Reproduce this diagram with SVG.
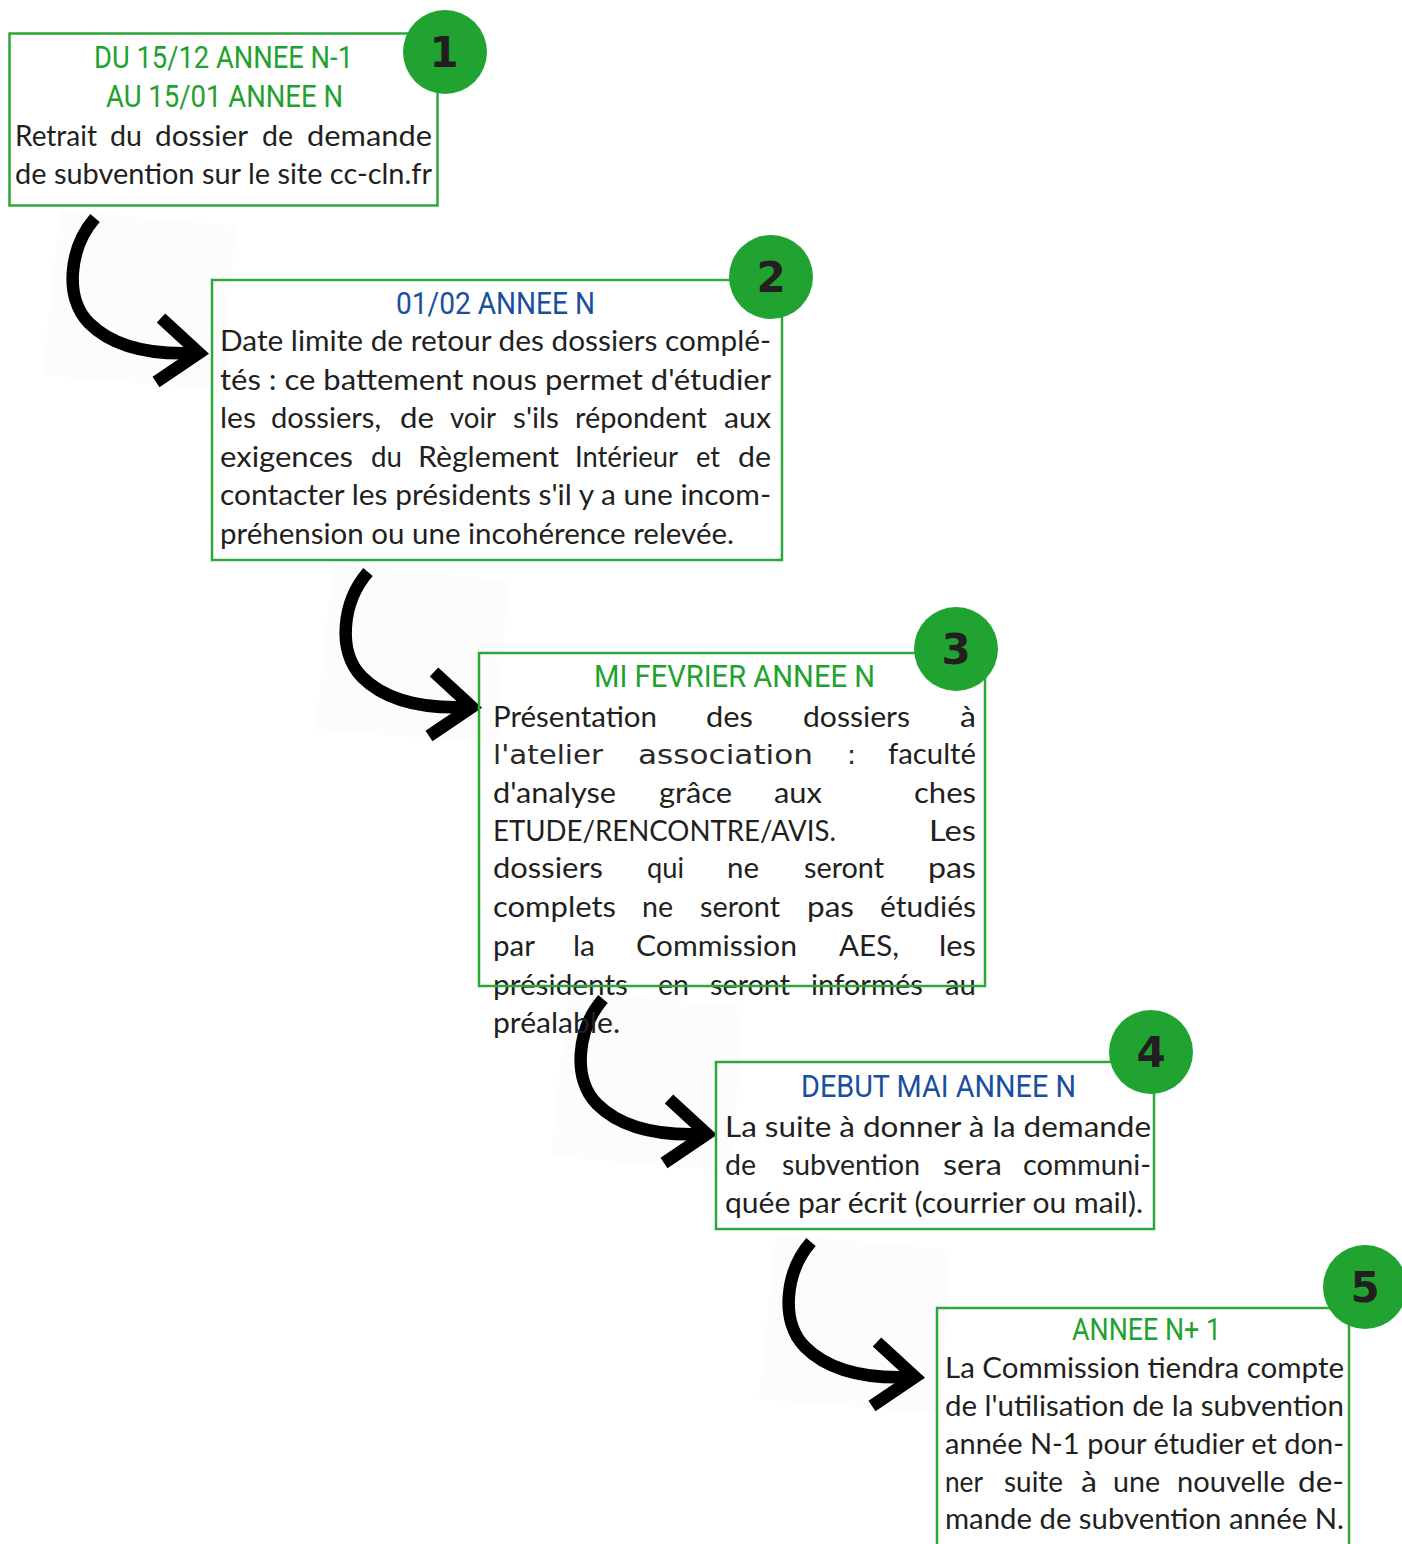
<svg xmlns="http://www.w3.org/2000/svg" xmlns:xlink="http://www.w3.org/1999/xlink" width="1402" height="1544" viewBox="0 0 1402 1544">
<style>
.box{fill:none;stroke:#2ca83b;stroke-width:2.5}
.badge{fill:#21a331}
.num{font-family:"DejaVu Sans",sans-serif;font-weight:bold;font-size:42px;fill:#231f20;text-anchor:middle}
.tg{font-family:Roboto,"Liberation Sans",sans-serif;font-size:31px;fill:#1fa22e}
.tb{font-family:Roboto,"Liberation Sans",sans-serif;font-size:31px;fill:#1a4f9f}
.b{font-family:Lato,"Liberation Sans",sans-serif;font-size:29px;fill:#231f20}
.alt{font-family:"DejaVu Sans",sans-serif;font-size:27px;fill:#2b2829}
.arrow{fill:none;stroke:#000;stroke-width:12.5}
.abg{fill:#fcfcfc}
</style>
<defs>
<g id="arrowShape">
<polygon class="abg" points="-139,-143 36,-127 25,37 -156,22"/>
<path class="arrow" d="M-104,-135 C-130,-105 -135,-55 -110,-30 C-85,-5 -45,2 -3,0"/>
<path class="arrow" d="M-38,-35 L0,0 L-43,29" stroke-linejoin="miter"/>
</g>
</defs>
<rect width="1402" height="1544" fill="#fff"/>
<g id="connectors">
<use xlink:href="#arrowShape" transform="translate(199,353)"/>
<use xlink:href="#arrowShape" transform="translate(472,707)"/>
<use xlink:href="#arrowShape" transform="translate(707,1134)"/>
<use xlink:href="#arrowShape" transform="translate(915,1377)"/>
</g>
<g id="node1">
<text class="tg" x="94" y="68" textLength="259" lengthAdjust="spacingAndGlyphs">DU 15/12 ANNEE N-1</text>
<text class="tg" x="106" y="107" textLength="237" lengthAdjust="spacingAndGlyphs">AU 15/01 ANNEE N</text>
<text class="b" x="15" y="146" textLength="82" lengthAdjust="spacingAndGlyphs">Retrait</text>
<text class="b" x="110" y="146" textLength="32" lengthAdjust="spacingAndGlyphs">du</text>
<text class="b" x="155" y="146" textLength="93" lengthAdjust="spacingAndGlyphs">dossier</text>
<text class="b" x="262" y="146" textLength="31" lengthAdjust="spacingAndGlyphs">de</text>
<text class="b" x="307" y="146" textLength="125" lengthAdjust="spacingAndGlyphs">demande</text>
<text class="b" x="15" y="184" textLength="417" lengthAdjust="spacingAndGlyphs">de subvention sur le site cc-cln.fr</text>
<rect class="box" x="9.5" y="33.5" width="428" height="172"/>
<circle class="badge" cx="445" cy="52" r="42"/>
<text class="num" x="444" y="67">1</text>
</g>
<g id="node2">
<text class="tb" x="396" y="314" textLength="199" lengthAdjust="spacingAndGlyphs">01/02 ANNEE N</text>
<text class="b" x="220" y="351" textLength="551" lengthAdjust="spacingAndGlyphs">Date limite de retour des dossiers complé-</text>
<text class="b" x="220" y="390" textLength="551" lengthAdjust="spacingAndGlyphs">tés : ce battement nous permet d'étudier</text>
<text class="b" x="220" y="428" textLength="36" lengthAdjust="spacingAndGlyphs">les</text>
<text class="b" x="271" y="428" textLength="110" lengthAdjust="spacingAndGlyphs">dossiers,</text>
<text class="b" x="400" y="428" textLength="34" lengthAdjust="spacingAndGlyphs">de</text>
<text class="b" x="450" y="428" textLength="46" lengthAdjust="spacingAndGlyphs">voir</text>
<text class="b" x="513" y="428" textLength="46" lengthAdjust="spacingAndGlyphs">s'ils</text>
<text class="b" x="575" y="428" textLength="132" lengthAdjust="spacingAndGlyphs">répondent</text>
<text class="b" x="724" y="428" textLength="47" lengthAdjust="spacingAndGlyphs">aux</text>
<text class="b" x="220" y="467" textLength="133" lengthAdjust="spacingAndGlyphs">exigences</text>
<text class="b" x="371" y="467" textLength="31" lengthAdjust="spacingAndGlyphs">du</text>
<text class="b" x="418" y="467" textLength="141" lengthAdjust="spacingAndGlyphs">Règlement</text>
<text class="b" x="575" y="467" textLength="103" lengthAdjust="spacingAndGlyphs">Intérieur</text>
<text class="b" x="696" y="467" textLength="24" lengthAdjust="spacingAndGlyphs">et</text>
<text class="b" x="738" y="467" textLength="33" lengthAdjust="spacingAndGlyphs">de</text>
<text class="b" x="220" y="505" textLength="551" lengthAdjust="spacingAndGlyphs">contacter les présidents s'il y a une incom-</text>
<text class="b" x="220" y="544" textLength="514" lengthAdjust="spacingAndGlyphs">préhension ou une incohérence relevée.</text>
<rect class="box" x="212" y="280" width="570" height="280"/>
<circle class="badge" cx="771" cy="277" r="42"/>
<text class="num" x="771" y="292">2</text>
</g>
<g id="node3">
<text class="tg" x="594" y="687" textLength="281" lengthAdjust="spacingAndGlyphs">MI FEVRIER ANNEE N</text>
<text class="b" x="493" y="727" textLength="164" lengthAdjust="spacingAndGlyphs">Présentation</text>
<text class="b" x="706" y="727" textLength="47" lengthAdjust="spacingAndGlyphs">des</text>
<text class="b" x="803" y="727" textLength="107" lengthAdjust="spacingAndGlyphs">dossiers</text>
<text class="b" x="960" y="727" textLength="16" lengthAdjust="spacingAndGlyphs">à</text>
<text class="alt" x="493" y="764" textLength="110" lengthAdjust="spacingAndGlyphs">l'atelier</text>
<text class="alt" x="638" y="764" textLength="175" lengthAdjust="spacingAndGlyphs">association</text>
<text class="alt" x="847" y="764">:</text>
<text class="b" x="888" y="764" textLength="88" lengthAdjust="spacingAndGlyphs">faculté</text>
<text class="b" x="493" y="803" textLength="123" lengthAdjust="spacingAndGlyphs">d'analyse</text>
<text class="b" x="659" y="803" textLength="73" lengthAdjust="spacingAndGlyphs">grâce</text>
<text class="b" x="774" y="803" textLength="48" lengthAdjust="spacingAndGlyphs">aux</text>
<text class="b" x="914" y="803" textLength="62" lengthAdjust="spacingAndGlyphs">ches</text>
<text class="b" x="493" y="841" textLength="343" lengthAdjust="spacingAndGlyphs">ETUDE/RENCONTRE/AVIS.</text>
<text class="b" x="929" y="841" textLength="47" lengthAdjust="spacingAndGlyphs">Les</text>
<text class="b" x="493" y="878" textLength="110" lengthAdjust="spacingAndGlyphs">dossiers</text>
<text class="b" x="647" y="878" textLength="37" lengthAdjust="spacingAndGlyphs">qui</text>
<text class="b" x="727" y="878" textLength="32" lengthAdjust="spacingAndGlyphs">ne</text>
<text class="b" x="804" y="878" textLength="80" lengthAdjust="spacingAndGlyphs">seront</text>
<text class="b" x="928" y="878" textLength="48" lengthAdjust="spacingAndGlyphs">pas</text>
<text class="b" x="493" y="917" textLength="123" lengthAdjust="spacingAndGlyphs">complets</text>
<text class="b" x="642" y="917" textLength="31" lengthAdjust="spacingAndGlyphs">ne</text>
<text class="b" x="700" y="917" textLength="80" lengthAdjust="spacingAndGlyphs">seront</text>
<text class="b" x="807" y="917" textLength="47" lengthAdjust="spacingAndGlyphs">pas</text>
<text class="b" x="880" y="917" textLength="96" lengthAdjust="spacingAndGlyphs">étudiés</text>
<text class="b" x="493" y="956" textLength="42" lengthAdjust="spacingAndGlyphs">par</text>
<text class="b" x="573" y="956" textLength="22" lengthAdjust="spacingAndGlyphs">la</text>
<text class="b" x="636" y="956" textLength="161" lengthAdjust="spacingAndGlyphs">Commission</text>
<text class="b" x="839" y="956" textLength="60" lengthAdjust="spacingAndGlyphs">AES,</text>
<text class="b" x="939" y="956" textLength="37" lengthAdjust="spacingAndGlyphs">les</text>
<text class="b" x="493" y="995" textLength="135" lengthAdjust="spacingAndGlyphs">présidents</text>
<text class="b" x="658" y="995" textLength="31" lengthAdjust="spacingAndGlyphs">en</text>
<text class="b" x="710" y="995" textLength="80" lengthAdjust="spacingAndGlyphs">seront</text>
<text class="b" x="811" y="995" textLength="112" lengthAdjust="spacingAndGlyphs">informés</text>
<text class="b" x="945" y="995" textLength="31" lengthAdjust="spacingAndGlyphs">au</text>
<text class="b" x="493" y="1033" textLength="127" lengthAdjust="spacingAndGlyphs">préalable.</text>
<rect class="box" x="479" y="653" width="506" height="333"/>
<circle class="badge" cx="956" cy="649" r="42"/>
<text class="num" x="956" y="664">3</text>
</g>
<g id="node4">
<text class="tb" x="801" y="1097" textLength="275" lengthAdjust="spacingAndGlyphs">DEBUT MAI ANNEE N</text>
<text class="b" x="725" y="1137" textLength="426" lengthAdjust="spacingAndGlyphs">La suite à donner à la demande</text>
<text class="b" x="725" y="1175" textLength="31" lengthAdjust="spacingAndGlyphs">de</text>
<text class="b" x="782" y="1175" textLength="138" lengthAdjust="spacingAndGlyphs">subvention</text>
<text class="b" x="943" y="1175" textLength="59" lengthAdjust="spacingAndGlyphs">sera</text>
<text class="b" x="1023" y="1175" textLength="128" lengthAdjust="spacingAndGlyphs">communi-</text>
<text class="b" x="725" y="1213" textLength="418" lengthAdjust="spacingAndGlyphs">quée par écrit (courrier ou mail).</text>
<rect class="box" x="716" y="1062" width="438" height="167"/>
<circle class="badge" cx="1151" cy="1052" r="42"/>
<text class="num" x="1151" y="1067">4</text>
</g>
<g id="node5">
<text class="tg" x="1072" y="1340" textLength="149" lengthAdjust="spacingAndGlyphs">ANNEE N+ 1</text>
<text class="b" x="945" y="1378" textLength="399" lengthAdjust="spacingAndGlyphs">La Commission tiendra compte</text>
<text class="b" x="945" y="1416" textLength="399" lengthAdjust="spacingAndGlyphs">de l'utilisation de la subvention</text>
<text class="b" x="945" y="1454" textLength="399" lengthAdjust="spacingAndGlyphs">année N-1 pour étudier et don-</text>
<text class="b" x="945" y="1492" textLength="38" lengthAdjust="spacingAndGlyphs">ner</text>
<text class="b" x="1004" y="1492" textLength="59" lengthAdjust="spacingAndGlyphs">suite</text>
<text class="b" x="1081" y="1492" textLength="16" lengthAdjust="spacingAndGlyphs">à</text>
<text class="b" x="1113" y="1492" textLength="47" lengthAdjust="spacingAndGlyphs">une</text>
<text class="b" x="1177" y="1492" textLength="108" lengthAdjust="spacingAndGlyphs">nouvelle</text>
<text class="b" x="1298" y="1492" textLength="46" lengthAdjust="spacingAndGlyphs">de-</text>
<text class="b" x="945" y="1529" textLength="399" lengthAdjust="spacingAndGlyphs">mande de subvention année N.</text>
<rect class="box" x="937" y="1308" width="412" height="260"/>
<circle class="badge" cx="1365" cy="1287" r="42"/>
<text class="num" x="1365" y="1302">5</text>
</g>
</svg>
